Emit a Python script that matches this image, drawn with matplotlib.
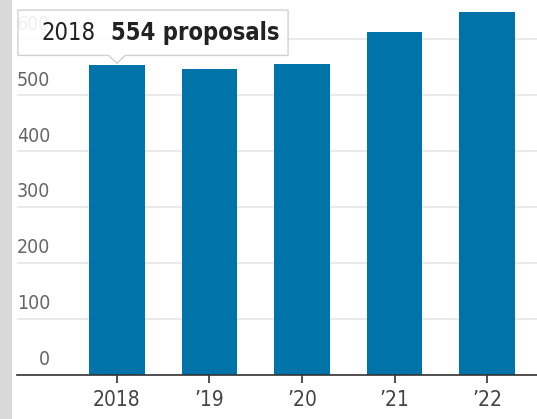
import matplotlib.pyplot as plt
from matplotlib.patches import Polygon, Rectangle
from matplotlib import transforms

# Data
years = ['2018', '\u201919', '\u201920', '\u201921', '\u201922']
proposals = [554, 546, 556, 612, 648]
y_ticks = [0, 100, 200, 300, 400, 500, 600]

bar_color = '#0073a8'
plt.rcParams['font.family'] = ['DejaVu Sans']
plt.rcParams['font.stretch'] = 'condensed'

fig = plt.figure(figsize=(5.37, 4.19), dpi=100)

# gray strip at the left edge
fig.patches.append(Rectangle((0, 0), 12 / 537, 1, transform=fig.transFigure,
                             facecolor='#d9d9d9', edgecolor='none', zorder=0))

ax = fig.add_axes([17 / 537, 44 / 419, 520 / 537, 375 / 419])
x = range(len(years))
ax.bar(x, proposals, width=0.6, color=bar_color, zorder=2)

ax.set_xlim(-1.08, 4.54)
ax.set_ylim(0, 670)

for s in ['top', 'right', 'left']:
    ax.spines[s].set_visible(False)
ax.spines['bottom'].set_color('#333333')
ax.spines['bottom'].set_linewidth(1.2)
ax.spines['bottom'].set_zorder(3)

ax.set_xticks(list(x))
ax.set_xticklabels(years, fontsize=15, color='#444444')
ax.tick_params(axis='x', direction='out', length=6, width=1.2, color='#333333', pad=5)

ax.set_yticks(y_ticks)
ax.tick_params(axis='y', left=False, labelleft=False)
ax.grid(axis='y', color='#e6e6e6', linewidth=1.2, zorder=0)
ax.set_axisbelow(True)

# y labels sit above their gridlines, inside the plot
trans = transforms.blended_transform_factory(ax.transAxes, ax.transData)
for t in y_ticks:
    ax.text(0.064, t + 10, str(t), transform=trans, ha='right', va='bottom',
            fontsize=14, color='#666666', zorder=1)

# callout box for 2018
v = proposals[0]
x0, x1 = -1.07, 1.85
yb, yt = v + 17, v + 98
hw = 0.09
box = Polygon([(x0, yb), (-hw, yb), (0, v + 3), (hw, yb), (x1, yb), (x1, yt), (x0, yt)],
              closed=True, facecolor='white', edgecolor='#cccccc', alpha=0.9,
              linewidth=1, zorder=4)
ax.add_patch(box)
t1 = ax.text(-0.81, (yb + yt) / 2, years[0], fontsize=17, color='#222222',
             ha='left', va='center', zorder=5)
ax.annotate(f'{v} proposals', xy=(1, 0.5), xycoords=t1, xytext=(11, 0),
            textcoords='offset points', fontsize=17, fontweight='bold',
            color='#222222', ha='left', va='center', zorder=5)

fig.savefig('out.png', dpi=100)
